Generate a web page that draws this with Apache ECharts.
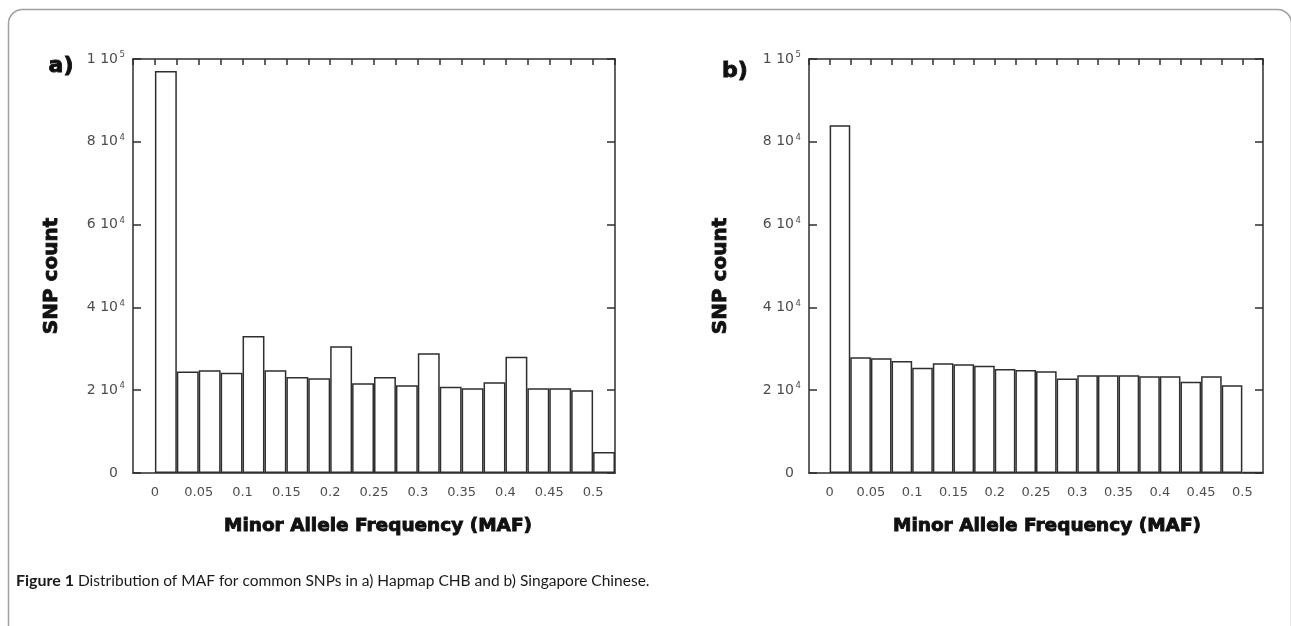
<!DOCTYPE html>
<html>
<head>
<meta charset="utf-8">
<script src="https://cdn.jsdelivr.net/npm/echarts@6/dist/echarts.min.js"></script>
<style>
  html, body { margin: 0; padding: 0; background: #fff; }
  #chart { width: 1291px; height: 626px; }
</style>
</head>
<body>
<div id="chart"></div>
<script>
// MAF bins: each bar covers [start, start + 0.025); an empty slot sits before 0
const binStarts = [-0.025, 0, 0.025, 0.05, 0.075, 0.1, 0.125, 0.15, 0.175, 0.2, 0.225,
  0.25, 0.275, 0.3, 0.325, 0.35, 0.375, 0.4, 0.425, 0.45, 0.475, 0.5];

// SNP counts per bin, a) Hapmap CHB
const hapmapCHB = [null, 97100, 24500, 24800, 24200, 33100, 24800, 23200, 22900, 30600, 21700,
  23200, 21200, 28900, 20850, 20500, 21900, 28100, 20500, 20500, 20000, 5100];

// SNP counts per bin, b) Singapore Chinese
const singaporeChinese = [null, 84000, 27950, 27700, 27050, 25400, 26500, 26250, 25900, 25100, 24900,
  24550, 22850, 23600, 23600, 23600, 23350, 23350, 22050, 23350, 21200, 300];

// tick labels
const mafTicks = [0, 0.05, 0.1, 0.15, 0.2, 0.25, 0.3, 0.35, 0.4, 0.45, 0.5];
const countMax = 100000;
const countStep = 20000;

const axisColor = '#2e2e2e';
const labelColor = '#4d4d4d';
const tickFont = '"DejaVu Sans", sans-serif';
const titleFont = '"DejaVu Sans", sans-serif';

function countLabel(v) {
  if (v === 0) return '{m|0}{s| }';
  const e = Math.floor(Math.log10(v));
  const mant = Math.round(v / Math.pow(10, e));
  return '{m|' + mant + ' 10}{s|' + e + '}';
}

const panels = [
  { left: 133, right: 1291 - 615, data: hapmapCHB },
  { left: 809, right: 1291 - 1263, data: singaporeChinese }
];

const lineStyle = { color: axisColor, width: 1.5 };
const grid = [], xAxis = [], yAxis = [], series = [];
panels.forEach((p, i) => {
  grid.push({ left: p.left, right: p.right, top: 59, bottom: 626 - 473, containLabel: false });
  // top axis: category slots, ticks at every bin edge
  xAxis.push({
    type: 'category', gridIndex: i, position: 'top',
    data: binStarts.map(String), boundaryGap: true,
    axisLine: { show: true, onZero: false, lineStyle: lineStyle },
    axisTick: { show: true, inside: true, length: 6, interval: 0, lineStyle: lineStyle },
    axisLabel: { show: false }, splitLine: { show: false }
  });
  // bottom axis: MAF value scale carrying the labels
  xAxis.push({
    type: 'value', gridIndex: i, position: 'bottom',
    min: binStarts[0], max: binStarts[binStarts.length - 1] + 0.025,
    axisLine: { show: true, onZero: false, lineStyle: lineStyle },
    axisTick: { show: false }, splitLine: { show: false },
    axisLabel: {
      customValues: mafTicks, margin: 13, fontSize: 13, color: labelColor,
      fontFamily: tickFont, formatter: v => String(v)
    }
  });
  yAxis.push({
    type: 'value', gridIndex: i, position: 'left', min: 0, max: countMax, interval: countStep,
    axisLine: { show: true, onZero: false, lineStyle: lineStyle },
    axisTick: { show: true, inside: true, length: 8, lineStyle: lineStyle },
    splitLine: { show: false },
    axisLabel: {
      margin: 8, formatter: countLabel,
      rich: {
        m: { fontSize: 14, lineHeight: 17, color: labelColor, fontFamily: tickFont },
        s: { fontSize: 8.5, lineHeight: 8, verticalAlign: 'top', width: 7, color: labelColor, fontFamily: tickFont }
      }
    }
  });
  yAxis.push({
    type: 'value', gridIndex: i, position: 'right', min: 0, max: countMax, interval: countStep,
    axisLine: { show: true, onZero: false, lineStyle: lineStyle },
    axisTick: { show: true, inside: true, length: 8, lineStyle: lineStyle },
    splitLine: { show: false }, axisLabel: { show: false }
  });
  series.push({
    type: 'bar', xAxisIndex: 2 * i, yAxisIndex: 2 * i,
    data: p.data, barCategoryGap: '0%',
    itemStyle: { color: '#ffffff', borderColor: axisColor, borderWidth: 1.5 },
    silent: true
  });
});

function sideText(x, y, text, size, rot) {
  return {
    type: 'text', x: x, y: y, rotation: rot || 0,
    style: {
      text: text, fill: '#111', stroke: '#111', lineWidth: 0.9,
      font: 'bold ' + size + 'px ' + titleFont,
      align: 'center', verticalAlign: 'middle', textAlign: 'center', textVerticalAlign: 'middle'
    }
  };
}

const chart = echarts.init(document.getElementById('chart'), null, { renderer: 'canvas' });
chart.setOption({
  animation: false,
  backgroundColor: '#ffffff',
  grid: grid, xAxis: xAxis, yAxis: yAxis, series: series,
  graphic: [
    {
      type: 'rect', z: -1,
      shape: { x: 8.5, y: 9.5, width: 1283, height: 700, r: [14, 14, 0, 0] },
      style: { fill: 'none', stroke: '#a0a0a0', lineWidth: 1.5 }
    },
    sideText(61, 66, 'a)', 22),
    sideText(735, 71, 'b)', 22),
    sideText(52, 276, 'SNP count', 20, Math.PI / 2),
    sideText(721, 276, 'SNP count', 20, Math.PI / 2),
    sideText(378, 526, 'Minor Allele Frequency (MAF)', 18.5),
    sideText(1047, 526, 'Minor Allele Frequency (MAF)', 18.5),
    {
      type: 'text', x: 16, y: 581,
      style: {
        text: '{b|Figure 1} Distribution of MAF for common SNPs in a) Hapmap CHB and b) Singapore Chinese.',
        fill: '#1a1a1a', font: '15.5px Lato, "Noto Sans", sans-serif',
        verticalAlign: 'middle', textVerticalAlign: 'middle',
        rich: { b: { fontWeight: 'bold', fontSize: 16, fontFamily: 'Lato, "Noto Sans", sans-serif', fill: '#1a1a1a', color: '#1a1a1a' } }
      }
    }
  ]
});
</script>
</body>
</html>
